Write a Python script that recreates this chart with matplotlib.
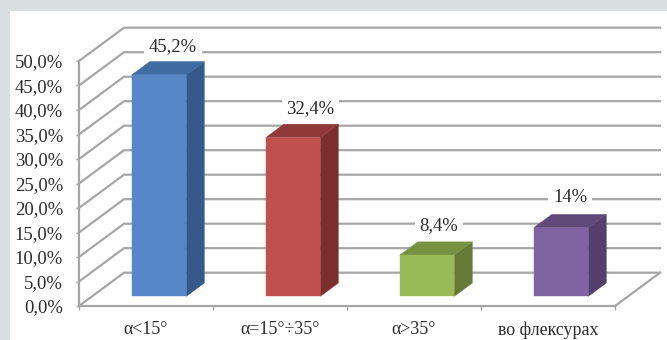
import matplotlib
matplotlib.use('Agg')
import matplotlib.pyplot as plt
from matplotlib.patches import Polygon, Rectangle

categories = ['α<15°', 'α=15°÷35°', 'α>35°', 'во флексурах']
values = [45.2, 32.4, 8.4, 14.0]
value_labels = ['45,2%', '32,4%', '8,4%', '14%']
y_ticks = [0, 5, 10, 15, 20, 25, 30, 35, 40, 45, 50]
y_tick_labels = ['0,0%', '5,0%', '10,0%', '15,0%', '20,0%', '25,0%',
                 '30,0%', '35,0%', '40,0%', '45,0%', '50,0%']

front_colors = ['#5787c6', '#c0504d', '#9bbb59', '#8064a2']
side_colors = ['#34598a', '#7b2f2d', '#667a38', '#543f6e']
top_colors = ['#3f6ca3', '#8f3a38', '#76913f', '#5f4a7a']

# shift of the back wall relative to the front plane, in data units
DEPTH_X = 0.336
DEPTH_Y = 6.8
BAR_WIDTH = 0.407
BAR_NEAR = 0.29
BAR_FAR = 0.69

# label placement relative to the bar top, in points
label_offsets = [(10, 14.5), (12.5, 14.5), (8.5, 15.5), (6.5, 15.5)]

GRID = '#a6a6a6'
TEXT = '#2b2b2b'
FONT_SIZE = 13.4


def project(x, y, depth):
    return x + depth * DEPTH_X, y + depth * DEPTH_Y


def draw_bar(ax, center, value, front, side, top):
    left = center - BAR_WIDTH / 2
    right = center + BAR_WIDTH / 2
    faces = [
        (side, [(right, 0, BAR_NEAR), (right, 0, BAR_FAR),
                (right, value, BAR_FAR), (right, value, BAR_NEAR)]),
        (top, [(left, value, BAR_NEAR), (right, value, BAR_NEAR),
               (right, value, BAR_FAR), (left, value, BAR_FAR)]),
        (front, [(left, 0, BAR_NEAR), (right, 0, BAR_NEAR),
                 (right, value, BAR_NEAR), (left, value, BAR_NEAR)]),
    ]
    for color, corners in faces:
        pts = [project(*c) for c in corners]
        ax.add_patch(Polygon(pts, closed=True, facecolor=color,
                             edgecolor=color, linewidth=0.3, zorder=3,
                             clip_on=False))


plt.rcParams['font.family'] = ['Liberation Serif', 'DejaVu Serif']

fig = plt.figure(figsize=(6.67, 3.4), dpi=100, facecolor='#d9dee1')
fig.add_artist(Rectangle((10 / 667, 0), 657 / 667, 329 / 340,
                         transform=fig.transFigure, facecolor='white',
                         edgecolor='none', zorder=-1))

ax = fig.add_axes([79 / 667, 34 / 340, 536 / 667, 245 / 340])
ax.patch.set_visible(False)
ax.set_xlim(0, len(categories))
ax.set_ylim(0, 50)

# side wall, back wall and floor lines
for y in y_ticks:
    x0, y0 = project(0, y, 0)
    x1, y1 = project(0, y, 1)
    x2, y2 = project(len(categories), y, 1)
    ax.plot([x0, x1, x2], [y0, y1, y2], color=GRID, lw=1.6, zorder=1,
            clip_on=False, solid_joinstyle='miter')
x0, y0 = project(len(categories), 0, 0)
x1, y1 = project(len(categories), 0, 1)
ax.plot([x0, x1], [y0, y1], color=GRID, lw=1.6, zorder=1, clip_on=False)

for i, value in enumerate(values):
    draw_bar(ax, i + 0.5, value, front_colors[i], side_colors[i], top_colors[i])
    x, y = project(i + 0.5, value, BAR_NEAR)
    ax.annotate(value_labels[i], (x, y), xytext=label_offsets[i],
                textcoords='offset points', ha='center', va='bottom',
                fontsize=FONT_SIZE, color=TEXT, zorder=4,
                bbox=dict(facecolor='white', edgecolor='none', pad=3.5))

for side in ['top', 'right']:
    ax.spines[side].set_visible(False)
for side in ['left', 'bottom']:
    ax.spines[side].set_color(GRID)
    ax.spines[side].set_linewidth(1.6)
    ax.spines[side].set_zorder(2)

ax.set_yticks(y_ticks)
ax.set_yticklabels(y_tick_labels, fontsize=FONT_SIZE, color=TEXT)
ax.tick_params(axis='y', length=2.5, width=1, color=GRID, pad=9)

ax.set_xticks(range(len(categories) + 1))
ax.set_xticklabels([])
ax.set_xticks([i + 0.5 for i in range(len(categories))], minor=True)
ax.set_xticklabels(categories, minor=True, fontsize=12.9, color=TEXT)
ax.tick_params(axis='x', which='major', length=3, width=1, color=GRID)
ax.tick_params(axis='x', which='minor', length=0, pad=11)

fig.savefig('out.png', dpi=100, facecolor=fig.get_facecolor())
